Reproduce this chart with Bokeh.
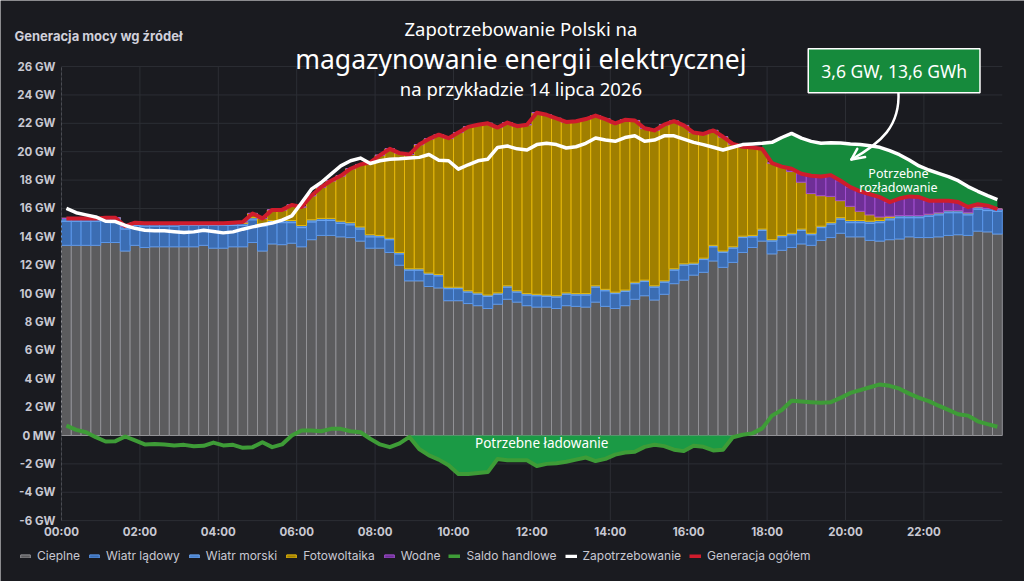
import numpy as np
from bokeh.plotting import figure
from bokeh.models import (Range1d, FixedTicker, Label, Legend, LegendItem,
                          ColumnDataSource)
from bokeh.embed import file_html
from bokeh.resources import INLINE

# 15-minute intervals, 14 July 2026, values in GW
STEP_H = 0.25

cieplne = [
    13.4, 13.4, 13.4, 13.4, 13.6, 13.6, 13.0, 13.4, 13.25, 13.3, 13.3, 13.3,
    13.3, 13.3, 13.4, 13.2, 13.2, 13.3, 13.3, 13.6, 13.0, 13.5, 13.45, 13.55,
    13.3, 13.8, 14.1, 14.1, 14.0, 13.95, 13.7, 13.2, 13.2, 12.9, 12.0, 10.9,
    10.9, 10.5, 10.4, 9.5, 9.5, 9.3, 9.15, 8.95, 9.25, 9.6, 9.4, 9.15,
    9.05, 9.05, 8.95, 9.15, 9.1, 9.05, 9.4, 9.1, 8.95, 9.15, 9.6, 9.85,
    9.55, 9.95, 10.7, 10.95, 11.3, 11.5, 12.3, 11.85, 12.2, 12.9, 13.25, 13.7,
    12.8, 13.05, 13.25, 13.5, 13.4, 13.75, 13.95, 14.25, 14.0, 14.0, 13.75, 13.7,
    13.8, 13.85, 14.0, 13.95, 13.95, 14.0, 14.1, 14.15, 14.1, 14.4, 14.35, 14.2,
]
wiatr_ladowy = [
    1.7, 1.7, 1.7, 1.7, 1.55, 1.55, 1.55, 1.4, 1.5, 1.45, 1.45, 1.45,
    1.5, 1.5, 1.4, 1.6, 1.6, 1.5, 1.5, 1.6, 1.75, 1.5, 1.55, 1.45,
    1.35, 1.25, 1.05, 1.05, 0.95, 0.9, 0.85, 0.8, 0.8, 0.9, 0.8, 0.75,
    0.75, 0.85, 0.85, 0.85, 0.85, 0.8, 0.8, 0.85, 0.7, 0.85, 0.7, 0.75,
    0.8, 0.75, 0.8, 0.8, 0.8, 0.85, 1.05, 1.1, 1.05, 1.0, 1.1, 1.0,
    0.9, 0.85, 0.95, 1.05, 0.75, 0.9, 1.0, 1.05, 1.0, 1.05, 0.75, 0.75,
    0.9, 0.95, 0.9, 0.95, 0.75, 0.9, 0.95, 1.0, 1.0, 1.0, 1.2, 1.3,
    1.4, 1.5, 1.35, 1.4, 1.5, 1.55, 1.6, 1.55, 1.45, 1.55, 1.5, 1.6,
]
wiatr_morski = [
    0.2, 0.2, 0.2, 0.2, 0.2, 0.2, 0.2, 0.2, 0.2, 0.2, 0.2, 0.2,
    0.15, 0.15, 0.15, 0.15, 0.15, 0.15, 0.15, 0.15, 0.15, 0.15, 0.15, 0.15,
    0.15, 0.15, 0.15, 0.15, 0.15, 0.15, 0.15, 0.15, 0.1, 0.1, 0.1, 0.1,
    0.1, 0.1, 0.1, 0.1, 0.1, 0.1, 0.1, 0.1, 0.1, 0.1, 0.1, 0.1,
    0.1, 0.1, 0.1, 0.1, 0.1, 0.1, 0.1, 0.1, 0.1, 0.1, 0.1, 0.1,
    0.1, 0.1, 0.1, 0.1, 0.1, 0.1, 0.1, 0.1, 0.1, 0.1, 0.1, 0.1,
    0.1, 0.1, 0.1, 0.1, 0.1, 0.1, 0.1, 0.1, 0.15, 0.15, 0.15, 0.15,
    0.15, 0.15, 0.15, 0.15, 0.15, 0.15, 0.15, 0.15, 0.15, 0.15, 0.15, 0.15,
]
fotowoltaika = [
    0, 0, 0, 0, 0, 0, 0, 0, 0, 0, 0, 0,
    0, 0, 0, 0, 0, 0.05, 0.1, 0.3, 0.4, 0.75, 0.75, 1.1,
    1.3, 1.7, 2.2, 2.65, 3.2, 3.8, 4.4, 5.1, 5.65, 6.3, 7.0, 8.05,
    8.75, 9.45, 9.85, 10.5, 10.9, 11.55, 11.85, 12.1, 11.65, 11.5, 11.6, 11.9,
    12.8, 12.7, 12.5, 12.05, 12.15, 12.3, 12.0, 12.0, 11.9, 12.0, 11.4, 10.7,
    10.95, 11.0, 10.4, 9.75, 9.2, 8.75, 8.1, 8.05, 7.25, 6.3, 6.2, 5.65,
    5.4, 4.85, 4.35, 3.3, 2.8, 2.15, 1.85, 1.2, 1.0, 0.65, 0.45, 0.25,
    0.1, 0, 0, 0, 0, 0, 0, 0, 0, 0, 0, 0,
]
wodne = [
    0, 0, 0, 0, 0, 0, 0, 0, 0, 0, 0, 0,
    0, 0, 0, 0, 0, 0, 0, 0, 0, 0, 0, 0,
    0, 0, 0, 0, 0, 0, 0, 0, 0, 0, 0, 0,
    0, 0, 0, 0, 0, 0, 0, 0, 0, 0, 0, 0,
    0, 0, 0, 0, 0, 0, 0, 0, 0, 0, 0, 0,
    0, 0, 0, 0, 0, 0, 0, 0, 0, 0, 0, 0,
    0, 0, 0.2, 0.6, 1.25, 1.35, 1.5, 1.4, 1.35, 1.4, 1.45, 1.4,
    1.0, 1.2, 1.35, 1.3, 0.95, 0.85, 0.7, 0.6, 0.4, 0.2, 0.2, 0.0,
]
saldo_handlowe = [
    0.7, 0.4, 0.23, -0.12, -0.42, -0.4, -0.07, -0.35, -0.63, -0.6, -0.63, -0.7,
    -0.66, -0.75, -0.73, -0.5, -0.7, -0.66, -0.87, -0.82, -0.47, -0.82, -0.63, 0.0,
    0.35, 0.35, 0.3, 0.47, 0.47, 0.3, 0.23, -0.23, -0.63, -0.82, -0.55, -0.1,
    -0.95, -1.4, -1.7, -2.1, -2.72, -2.72, -2.65, -2.58, -1.65, -1.75, -1.75, -1.75,
    -2.15, -2.0, -1.95, -1.85, -1.7, -1.55, -1.8, -1.65, -1.35, -1.2, -1.15, -0.8,
    -0.65, -0.75, -1.0, -1.1, -0.72, -0.8, -1.05, -1.0, -0.12, 0.05, 0.15, 0.5,
    1.4, 1.8, 2.45, 2.4, 2.35, 2.3, 2.35, 2.65, 3.0, 3.2, 3.4, 3.6,
    3.5, 3.3, 2.95, 2.65, 2.42, 2.1, 1.8, 1.5, 1.4, 1.0, 0.8, 0.62,
]
zapotrzebowanie = [
    16.0, 15.7, 15.55, 15.4, 15.1, 15.08, 14.8, 14.6, 14.47, 14.43, 14.43, 14.36,
    14.3, 14.35, 14.47, 14.38, 14.28, 14.35, 14.54, 14.7, 14.85, 14.97, 15.18, 15.48,
    16.4, 17.36, 17.83, 18.42, 19.0, 19.36, 19.55, 19.17, 19.36, 19.47, 19.5, 19.55,
    19.6, 19.8, 19.4, 19.36, 18.77, 19.08, 19.36, 19.47, 20.3, 20.4, 20.2, 20.12,
    20.5, 20.59, 20.5, 20.26, 20.35, 20.59, 20.96, 20.82, 20.73, 21.0, 21.12, 20.73,
    20.82, 21.12, 21.12, 20.89, 20.66, 20.5, 20.31, 20.12, 20.31, 20.5, 20.54, 20.59,
    20.66, 21.0, 21.29, 20.96, 20.73, 20.59, 20.63, 20.61, 20.54, 20.5, 20.42, 20.31,
    20.07, 19.79, 19.42, 19.0, 18.71, 18.47, 18.24, 17.96, 17.54, 17.21, 16.9, 16.62,
]

series_labels = ["Cieplne", "Wiatr lądowy", "Wiatr morski", "Fotowoltaika", "Wodne"]
y_ticks = list(range(-6, 27, 2))
x_ticks = list(range(0, 24, 2))
CHARGE_WINDOW = (8.75, 17.0)      # hours: surplus to be stored
DISCHARGE_FROM = 17.75            # hours: deficit to be covered from storage

BG = "#1a1b20"
GRID = "#2c2e34"
AXIS_TXT = "#c8c8d2"

# canvas geometry: the frame fills the whole canvas, axes are pinned inside it
W, H = 1024, 581
ORIGIN_X, ORIGIN_Y = 61, 435          # pixel position of 00:00 / 0 GW
PX_PER_H, PX_PER_GW = 39.2, 14.19

n = len(cieplne)
start = np.arange(n) * STEP_H
center = start + STEP_H / 2

series = {
    "cieplne": np.array(cieplne),
    "wiatr_ladowy": np.array(wiatr_ladowy),
    "wiatr_morski": np.array(wiatr_morski),
    "fotowoltaika": np.array(fotowoltaika),
    "wodne": np.array(wodne),
}
generacja = sum(series.values())
saldo = np.array(saldo_handlowe)
demand = np.array(zapotrzebowanie)

src = ColumnDataSource(dict(x=center, **series))

p = figure(width=W, height=H, output_backend="svg", toolbar_location=None, title=None,
           x_range=Range1d(-ORIGIN_X / PX_PER_H, (W - ORIGIN_X) / PX_PER_H),
           y_range=Range1d(-(H - ORIGIN_Y) / PX_PER_GW, ORIGIN_Y / PX_PER_GW),
           min_border_left=0, min_border_right=0, min_border_top=0,
           min_border_bottom=0)
p.background_fill_color = BG
p.border_fill_color = BG
p.outline_line_color = None

# axes pinned to the value/time origin
p.yaxis.fixed_location = 0
p.xaxis.fixed_location = y_ticks[0]
p.yaxis.ticker = FixedTicker(ticks=y_ticks)
p.yaxis.major_label_overrides = {t: ("0 MW" if t == 0 else f"{t} GW") for t in y_ticks}
p.yaxis.bounds = (y_ticks[0], y_ticks[-1])
p.xaxis.ticker = FixedTicker(ticks=x_ticks)
p.xaxis.major_label_overrides = {h: f"{h:02d}:00" for h in x_ticks}
p.xaxis.bounds = (0, 24)
for ax in (p.xaxis[0], p.yaxis[0]):
    ax.major_tick_line_color = None
    ax.minor_tick_line_color = None
    ax.major_tick_out = 0
    ax.major_tick_in = 0
    ax.minor_tick_out = 0
    ax.major_label_text_color = AXIS_TXT
    ax.major_label_text_font = "Inter"
    ax.major_label_text_font_size = "11.5px"
    ax.major_label_text_font_style = "bold"
p.yaxis.major_label_standoff = 6
p.xaxis.major_label_standoff = 4
p.xaxis.axis_line_color = None
p.yaxis.axis_line_color = "#4a4c52"
p.yaxis.axis_line_dash = "3 2"
p.xgrid.visible = False
p.ygrid.visible = False

# gridlines limited to the plotted range
p.segment(x0=x_ticks, x1=x_ticks, y0=[y_ticks[0]] * len(x_ticks),
          y1=[y_ticks[-1]] * len(x_ticks), line_color=GRID, line_width=1)
p.segment(x0=[0] * len(y_ticks), x1=[24] * len(y_ticks), y0=y_ticks, y1=y_ticks,
          line_color=GRID, line_width=1)

# stacked generation bars
fills = ["#5c5c5e", "#3b6db3", "#4a82cc", "#a07f00", "#6e2f96"]
edges = ["#929296", "#5b97ea", "#6aa4f2", "#e6b80a", "#a24fd0"]
bar_renderers = p.vbar_stack(list(series.keys()), x="x", width=STEP_H, source=src,
                             fill_color=fills, line_color=edges, line_width=1)

# storage need: charging (surplus) and discharging (deficit)
chg = (start >= CHARGE_WINDOW[0]) & (start <= CHARGE_WINDOW[1])
p.varea(x=center[chg], y1=np.zeros(chg.sum()), y2=saldo[chg], fill_color="#1b9a45")
dis = start >= DISCHARGE_FROM
p.varea(x=center[dis], y1=generacja[dis], y2=demand[dis], fill_color="#168a3c")

r_saldo = p.line(center, saldo, line_color="#3e9c37", line_width=4, line_join="round")
r_gen = p.line(center, generacja, line_color="#cf1c2c", line_width=4, line_join="round")
r_dem = p.line(center, demand, line_color="#ffffff", line_width=3.5, line_join="round")

# legend under the time axis (flat swatches)
items = [LegendItem(label=lab, renderers=[r]) for lab, r in zip(series_labels, bar_renderers)]
items += [LegendItem(label="Saldo handlowe", renderers=[r_saldo]),
          LegendItem(label="Zapotrzebowanie", renderers=[r_dem]),
          LegendItem(label="Generacja ogółem", renderers=[r_gen])]
legend = Legend(items=items, orientation="horizontal", location=(19, 18),
                background_fill_alpha=0, border_line_color=None,
                label_text_color=AXIS_TXT, label_text_font="Inter",
                label_text_font_size="12px", glyph_width=12, glyph_height=4,
                label_height=14, label_standoff=6, spacing=8, padding=0, margin=0)
p.add_layout(legend)


def add_text(x, y, text, size, color="#ffffff", align="center", font="Noto Sans", **kw):
    lab = Label(x=x, y=y, text=text, text_font=font, text_font_size=size,
                text_color=color, text_align=align, text_baseline="middle", **kw)
    p.add_layout(lab)
    return lab


add_text(-1.2, 28.12, "Generacja mocy wg źródeł", "13px", color="#d0d0da",
         align="left", font="Inter", text_font_style="bold")
add_text(11.72, 28.66, "Zapotrzebowanie Polski na", "18.5px")
add_text(11.72, 26.55, "magazynowanie energii elektrycznej", "26.5px")
add_text(11.72, 24.45, "na przykładzie 14 lipca 2026", "18.5px")
add_text(12.25, -0.55, "Potrzebne ładowanie", "13.5px")
add_text(21.35, 18.45, "Potrzebne", "12.5px")
add_text(21.35, 17.45, "rozładowanie", "12.5px")
add_text(21.24, 25.7, "3,6 GW, 13,6 GWh", "17.5px",
         background_fill_color="#168a3c", border_line_color="#ffffff",
         border_line_width=1.5, padding=(13, 10))

# hand-drawn arrow from the box into the discharge area
p.bezier(x0=[21.35], y0=[24.25], x1=[20.15], y1=[19.45],
         cx0=[21.4], cy0=[21.8], cx1=[20.9], cy1=[20.6],
         line_color="#ffffff", line_width=2.5)
p.segment(x0=[20.15, 20.15], y0=[19.45, 19.45], x1=[20.3, 20.5], y1=[20.2, 19.62],
          line_color="#ffffff", line_width=2.5, line_cap="round")

open("out.html", "w").write(file_html(p, INLINE))
